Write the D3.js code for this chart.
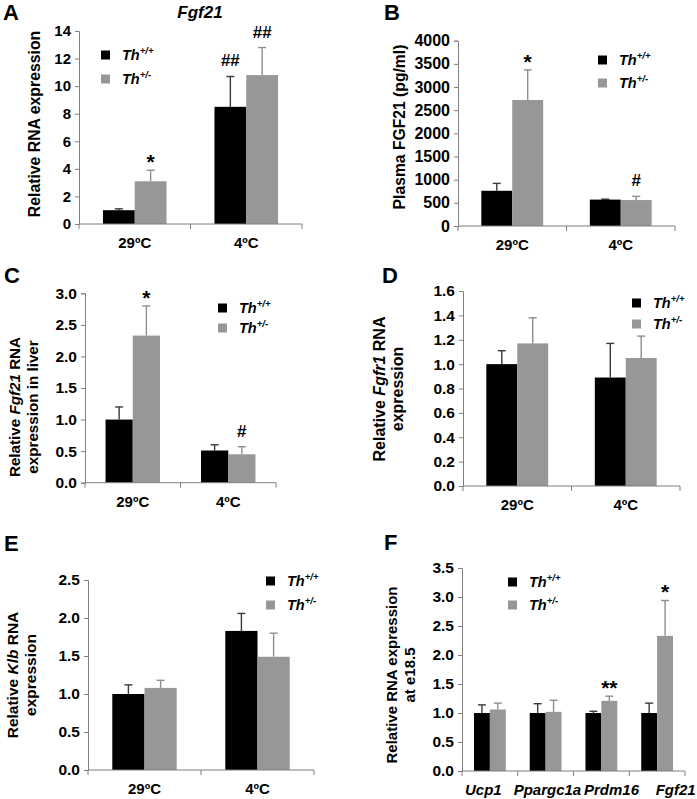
<!DOCTYPE html>
<html>
<head>
<meta charset="utf-8">
<script src="https://cdn.jsdelivr.net/npm/d3@7"></script>
<style>
  body { margin: 0; background: #fff; }
  svg { display: block; font-family: "Liberation Sans", Arial, sans-serif; }
</style>
</head>
<body>
<div id="fig"></div>
<script>
// Categories
const tempCats = ['29ºC', '4ºC'];
const geneCats = ['Ucp1', 'Ppargc1a', 'Prdm16', 'Fgf21'];
const genotypes = ['wt', 'het'];   // Th+/+ , Th+/-

// A: Fgf21 relative RNA expression (BAT)
const aWt = [1.0, 8.5], aWtErr = [0.1, 2.2];
const aHet = [3.1, 10.8], aHetErr = [0.8, 2.0];
// B: plasma FGF21 (pg/ml)
const bWt = [760, 570], bWtErr = [160, 10];
const bHet = [2720, 560], bHetErr = [650, 80];
// C: Fgf21 in liver
const cWt = [1.0, 0.51], cWtErr = [0.2, 0.09];
const cHet = [2.33, 0.45], cHetErr = [0.47, 0.12];
// D: Fgfr1
const dWt = [1.0, 0.89], dWtErr = [0.11, 0.28];
const dHet = [1.17, 1.05], dHetErr = [0.21, 0.18];
// E: Klb
const eWt = [1.0, 1.83], eWtErr = [0.12, 0.23];
const eHet = [1.08, 1.49], eHetErr = [0.10, 0.31];
// F: e18.5 genes
const fWt = [1.0, 1.0, 1.0, 1.0], fWtErr = [0.14, 0.16, 0.03, 0.17];
const fHet = [1.06, 1.02, 1.21, 2.33], fHetErr = [0.11, 0.20, 0.08, 0.61];

// Axis ticks
const aTicks = [0, 2, 4, 6, 8, 10, 12, 14];
const bTicks = [0, 500, 1000, 1500, 2000, 2500, 3000, 3500, 4000];
const cTicks = [0, 0.5, 1.0, 1.5, 2.0, 2.5, 3.0];
const dTicks = [0, 0.2, 0.4, 0.6, 0.8, 1.0, 1.2, 1.4, 1.6];
const eTicks = [0, 0.5, 1.0, 1.5, 2.0, 2.5];
const fTicks = [0, 0.5, 1.0, 1.5, 2.0, 2.5, 3.0, 3.5];

// Significance marks: [category index, genotype index, text]
const aMarks = [[0, 1, '*'], [1, 0, '##'], [1, 1, '##']];
const bMarks = [[0, 1, '*'], [1, 1, '#']];
const cMarks = [[0, 1, '*'], [1, 1, '#']];
const fMarks = [[2, 1, '**'], [3, 1, '*']];

const W = 697, H = 799;
const svg = d3.select('#fig').append('svg').attr('width', W).attr('height', H);

const BLACK = '#000000', GREY = '#979797';
const ERR_COLORS = ['#3a3a3a', '#8e8e8e'];
const AXIS = '#7f7f7f';

function panel(cfg) {
  const g = svg.append('g');
  const cats = cfg.cats;
  const x0 = d3.scaleBand().domain(cats).range([cfg.left, cfg.right]).padding(0);
  const bw = x0.bandwidth();
  const x1 = d3.scaleBand().domain(genotypes).range([bw * 0.215, bw * 0.785]).padding(0);
  const y = d3.scaleLinear().domain([0, d3.max(cfg.ticks)]).range([cfg.bottom, cfg.top]);

  const rows = [];
  cats.forEach((c, i) => {
    rows.push({ c, i, gi: 0, v: cfg.wt[i], e: cfg.wtErr[i] });
    rows.push({ c, i, gi: 1, v: cfg.het[i], e: cfg.hetErr[i] });
  });
  const cx = d => x0(d.c) + x1(genotypes[d.gi]) + x1.bandwidth() / 2;

  // error bars (upper half only)
  const eb = g.selectAll('g.err').data(rows).enter().append('g')
    .attr('stroke', d => ERR_COLORS[d.gi]).attr('stroke-width', 1.4);
  eb.append('line')
    .attr('x1', cx).attr('x2', cx)
    .attr('y1', d => y(d.v)).attr('y2', d => y(d.v + d.e));
  eb.append('line')
    .attr('x1', d => cx(d) - 4).attr('x2', d => cx(d) + 4)
    .attr('y1', d => y(d.v + d.e)).attr('y2', d => y(d.v + d.e));

  // bars
  g.selectAll('rect.bar').data(rows).enter().append('rect')
    .attr('x', d => x0(d.c) + x1(genotypes[d.gi]))
    .attr('y', d => y(d.v))
    .attr('width', x1.bandwidth())
    .attr('height', d => y(0) - y(d.v))
    .attr('fill', d => d.gi === 0 ? BLACK : GREY);

  // y axis
  const ya = g.append('g').attr('transform', `translate(${cfg.left},0)`)
    .call(d3.axisLeft(y).tickValues(cfg.ticks).tickSize(4).tickPadding(4).tickFormat(d3.format(cfg.fmt)));
  ya.select('.domain').attr('stroke', AXIS);
  ya.selectAll('.tick line').attr('stroke', AXIS);
  ya.selectAll('.tick text').attr('fill', '#000').style('font-size', cfg.tickSize + 'px').style('font-weight', 'bold');

  // x axis: line + ticks at category boundaries
  g.append('line').attr('x1', cfg.left).attr('x2', cfg.right)
    .attr('y1', y(0)).attr('y2', y(0)).attr('stroke', AXIS);
  const bounds = cats.map(c => x0(c)).concat([cfg.right]);
  g.selectAll('line.xt').data(bounds).enter().append('line')
    .attr('x1', d => d).attr('x2', d => d)
    .attr('y1', y(0)).attr('y2', y(0) + 5).attr('stroke', AXIS);
  // labels (F labels are spread a little wider than the bands, as in the original)
  const mid = (cfg.left + cfg.right) / 2;
  const spread = cfg.labelSpread || 1;
  const shift = cfg.labelShift || 0;
  g.selectAll('text.xl').data(cats).enter().append('text')
    .attr('x', d => mid + (x0(d) + bw / 2 - mid) * spread + shift).attr('y', y(0) + 24)
    .attr('text-anchor', 'middle')
    .style('font-size', '15px').style('font-weight', 'bold')
    .style('font-style', cfg.catItalic ? 'italic' : 'normal')
    .text(d => d);

  // y label
  const yl = g.append('text')
    .attr('transform', `translate(${cfg.ylx},${cfg.yly}) rotate(-90)`)
    .attr('text-anchor', 'middle')
    .style('font-size', cfg.ylSize + 'px').style('font-weight', 'bold');
  cfg.ylabel.forEach((line, li) => {
    const t = yl.append('tspan').attr('x', 0).attr('dy', li === 0 ? 0 : 17.5);
    line.forEach(part => {
      t.append('tspan').style('font-style', part[1] ? 'italic' : 'normal').text(part[0]);
    });
  });

  // panel letter
  g.append('text').attr('x', cfg.lx).attr('y', cfg.ly)
    .style('font-size', '22px').style('font-weight', 'bold').text(cfg.letter);

  // legend
  const lg = g.append('g');
  [0, 1].forEach(k => {
    const cy = k === 0 ? cfg.legY : cfg.legY + cfg.legGap;
    lg.append('rect').attr('x', cfg.legX).attr('y', cy - 4.5).attr('width', 9).attr('height', 9)
      .attr('fill', k === 0 ? BLACK : GREY);
    const t = lg.append('text').attr('x', cfg.legX + 21).attr('y', cy + 5)
      .style('font-size', '14.5px').style('font-weight', 'bold').style('font-style', 'italic');
    t.append('tspan').text('Th');
    t.append('tspan').attr('dy', -6).style('font-size', '9.5px').text(k === 0 ? '+/+' : '+/-');
  });

  // significance marks
  (cfg.marks || []).forEach(m => {
    const i = m[0], gi = m[1], txt = m[2];
    const v = gi === 0 ? cfg.wt[i] + cfg.wtErr[i] : cfg.het[i] + cfg.hetErr[i];
    const mx = x0(cats[i]) + x1(genotypes[gi]) + x1.bandwidth() / 2;
    const star = txt.indexOf('*') >= 0;
    g.append('text').attr('x', mx).attr('y', y(v) + (star ? -1 : -10))
      .attr('text-anchor', 'middle')
      .style('font-size', star ? '21px' : '17px').style('font-weight', 'bold')
      .text(txt);
  });
}

panel({ letter: 'A', lx: 3, ly: 20, cats: tempCats, wt: aWt, wtErr: aWtErr, het: aHet, hetErr: aHetErr,
  ticks: aTicks, fmt: 'd', tickSize: 15, left: 79, right: 302, top: 31, bottom: 224,
  ylabel: [[['Relative RNA expression', false]]], ylSize: 15.8, ylx: 40, yly: 124,
  legX: 101, legY: 55, legGap: 24, marks: aMarks });

svg.append('text').attr('x', 200).attr('y', 18).attr('text-anchor', 'middle')
  .style('font-size', '17px').style('font-weight', 'bold').style('font-style', 'italic').text('Fgf21');

panel({ letter: 'B', lx: 384, ly: 20, cats: tempCats, wt: bWt, wtErr: bWtErr, het: bHet, hetErr: bHetErr,
  ticks: bTicks, fmt: 'd', tickSize: 16, left: 458, right: 675, top: 40.7, bottom: 226,
  ylabel: [[['Plasma FGF21 (pg/ml)', false]]], ylSize: 15.7, ylx: 405, yly: 127,
  legX: 598, legY: 60, legGap: 23, marks: bMarks });

panel({ letter: 'C', lx: 4, ly: 283, cats: tempCats, wt: cWt, wtErr: cWtErr, het: cHet, hetErr: cHetErr,
  ticks: cTicks, fmt: '.1f', tickSize: 15.5, left: 85, right: 276, top: 293.3, bottom: 482.7,
  ylabel: [[['Relative ', false], ['Fgf21', true], [' RNA', false]], [['expression in liver', false]]],
  ylSize: 15.2, ylx: 20, yly: 407, legX: 218, legY: 308, legGap: 20, marks: cMarks });

panel({ letter: 'D', lx: 382, ly: 283, cats: tempCats, wt: dWt, wtErr: dWtErr, het: dHet, hetErr: dHetErr,
  ticks: dTicks, fmt: '.1f', tickSize: 15.5, left: 463, right: 680, top: 291, bottom: 486,
  ylabel: [[['Relative ', false], ['Fgfr1', true], [' RNA', false]], [['expression', false]]],
  ylSize: 16, ylx: 385, yly: 389, legX: 632, legY: 303, legGap: 21, marks: [] });

panel({ letter: 'E', lx: 4, ly: 551, cats: tempCats, wt: eWt, wtErr: eWtErr, het: eHet, hetErr: eHetErr,
  ticks: eTicks, fmt: '.1f', tickSize: 15.5, left: 88, right: 314, top: 580, bottom: 770,
  ylabel: [[['Relative ', false], ['Klb', true], [' RNA', false]], [['expression', false]]],
  ylSize: 15.5, ylx: 18, yly: 675, legX: 266, legY: 581, legGap: 24, marks: [] });

panel({ letter: 'F', lx: 384, ly: 550, cats: geneCats, catItalic: true, labelSpread: 1.15, labelShift: 6,
  wt: fWt, wtErr: fWtErr, het: fHet, hetErr: fHetErr,
  ticks: fTicks, fmt: '.1f', tickSize: 15.5, left: 462, right: 685, top: 568, bottom: 771,
  ylabel: [[['Relative RNA expression', false]], [['at e18.5', false]]],
  ylSize: 15, ylx: 397, yly: 675, legX: 508, legY: 582, legGap: 23, marks: fMarks });
</script>
</body>
</html>
